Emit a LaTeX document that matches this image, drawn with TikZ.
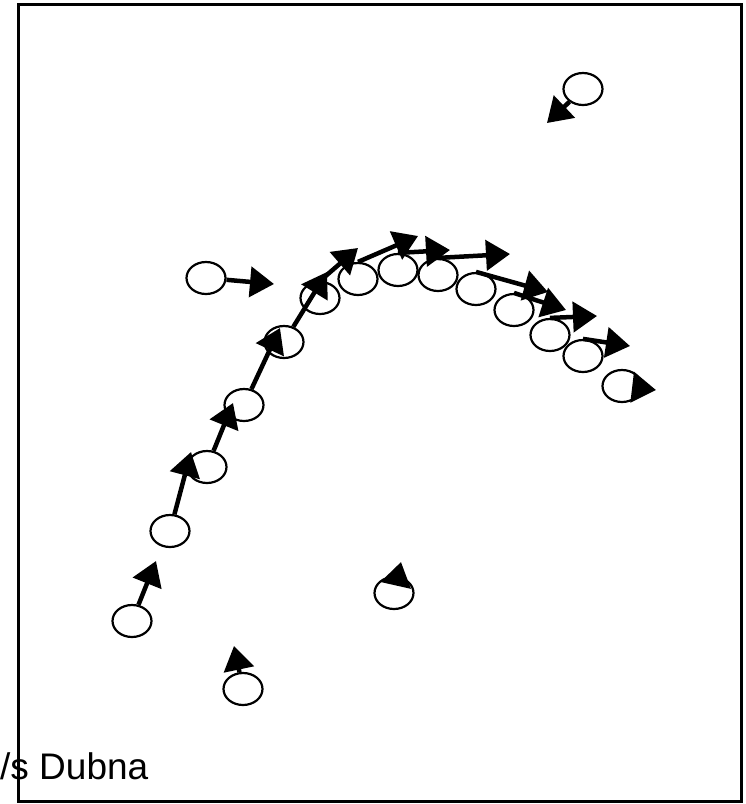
\documentclass[tikz,border=0pt]{standalone}
\usepackage{fontspec}
\setmainfont{Liberation Sans}
\usetikzlibrary{arrows.meta, shapes.geometric}
\definecolor{inkline}{HTML}{000000}
\definecolor{ballfill}{HTML}{FFFFFF}
\tikzset{
  ball/.style  = {ellipse, draw=inkline, fill=ballfill, line width=2.2pt,
                  minimum width=39pt, minimum height=32pt, inner sep=0pt},
  vel/.style   = {-{Triangle[length=24pt, width=30pt]}, line width=4.5pt, draw=inkline},
  frame/.style = {draw=inkline, line width=3pt},
  lbl/.style   = {font=\fontsize{37}{40}\selectfont, inner sep=0pt},
}
\begin{document}
\begin{tikzpicture}[x=1pt, y=-1pt]
  \useasboundingbox (0,0) rectangle (746,804);
  \draw[frame] (18,4) rectangle (741,801);
  % balls on the curved track, with free ones scattered round it
  \foreach \i/\x/\y/\tx/\ty in {
    1/132/621/156/561,
    2/170/531/191/452,
    3/207/467/233/403,
    4/244/405/280/328,
    5/284/342/327/272,
    6/320/298/358/248,
    7/358/279/418/236,
    8/398/270/450/250,
    9/438/275/510/254,
    10/476/289/548/292,
    11/514/310/566/310,
    12/550/335/597/316,
    13/583/356/630/346,
    14/622/386/656/390,
    15/206/278/274/284,
    16/583/89/547/123,
    17/394/593/401/562,
    18/243/689/234/646}{
    \node[ball] (b\i) at (\x,\y) {};
    \coordinate (t\i) at (\tx,\ty);
  }
  \foreach \i in {1,...,5,14,15,16,17,18}{\draw[vel] (b\i) -- (t\i);}
  \foreach \i in {6,...,13}{\draw[vel] (b\i.north) -- (t\i);}
  \node[lbl, anchor=base west] (cap) at (0,779) {/s Dubna};
\end{tikzpicture}
\end{document}
